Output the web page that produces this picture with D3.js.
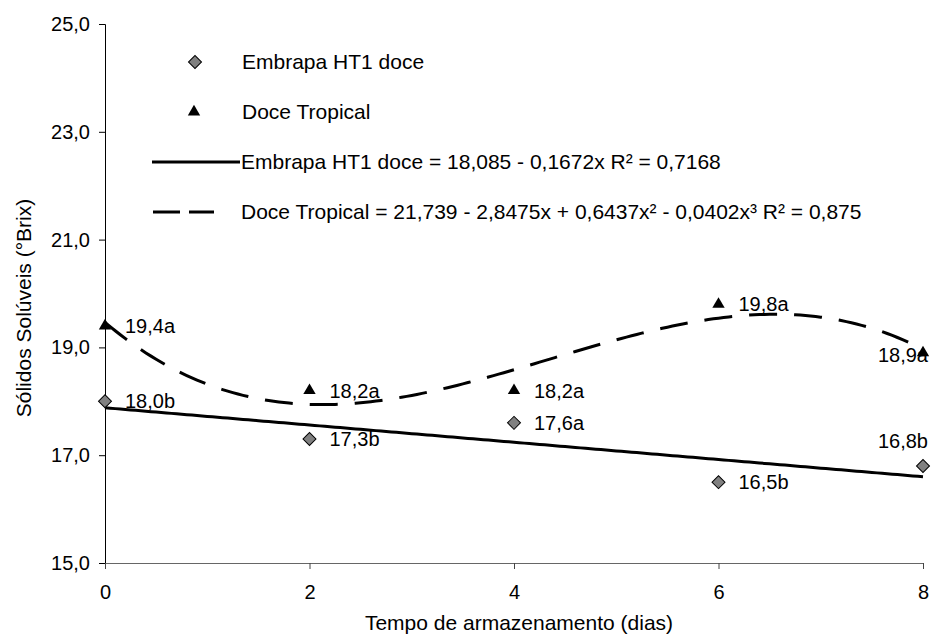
<!DOCTYPE html>
<html>
<head>
<meta charset="utf-8">
<script src="https://cdn.jsdelivr.net/npm/d3@7"></script>
<style>
  html, body { margin: 0; padding: 0; background: #fff; }
  svg { display: block; font-family: "Liberation Sans", Arial, sans-serif; }
  .tick text { font-size: 20px; fill: #000; }
  .lbl { font-size: 20px; fill: #000; }
  .leg { font-size: 21px; fill: #000; }
  .title { font-size: 21px; fill: #000; }
</style>
</head>
<body>
<div id="chart"></div>
<script>
// data
const days = [0, 2, 4, 6, 8];
const embrapa = [18.0, 17.3, 17.6, 16.5, 16.8];
const tropical = [19.4, 18.2, 18.2, 19.8, 18.9];
const embrapaLabels = ['18,0b', '17,3b', '17,6a', '16,5b', '16,8b'];
const tropicalLabels = ['19,4a', '18,2a', '18,2a', '19,8a', '18,9a'];
const yTicks = [15, 17, 19, 21, 23, 25];
const xTicks = [0, 2, 4, 6, 8];
const legendTexts = [
  'Embrapa HT1 doce',
  'Doce Tropical',
  'Embrapa HT1 doce = 18,085 - 0,1672x R² = 0,7168',
  'Doce Tropical = 21,739 - 2,8475x + 0,6437x² - 0,0402x³ R² = 0,875',
];

const width = 932;
const height = 634;

// least squares polynomial fit (normal equations)
function polyfit(xs, ys, deg) {
  const n = deg + 1;
  const A = d3.range(n).map(r => {
    const row = d3.range(n).map(c => d3.sum(xs, x => Math.pow(x, r + c)));
    row.push(d3.sum(xs, (x, i) => Math.pow(x, r) * ys[i]));
    return row;
  });
  for (let i = 0; i < n; i++) {
    let p = i;
    for (let k = i + 1; k < n; k++) if (Math.abs(A[k][i]) > Math.abs(A[p][i])) p = k;
    [A[i], A[p]] = [A[p], A[i]];
    for (let k = i + 1; k < n; k++) {
      const f = A[k][i] / A[i][i];
      for (let j = i; j <= n; j++) A[k][j] -= f * A[i][j];
    }
  }
  const coef = new Array(n).fill(0);
  for (let i = n - 1; i >= 0; i--) {
    let s = A[i][n];
    for (let j = i + 1; j < n; j++) s -= A[i][j] * coef[j];
    coef[i] = s / A[i][i];
  }
  return x => d3.sum(coef, (c, k) => c * Math.pow(x, k));
}

const fitLin = polyfit(days, embrapa, 1);
const fitCub = polyfit(days, tropical, 3);

const x = d3.scaleLinear().domain([0, 8]).range([105, 923]);
const y = d3.scaleLinear().domain([15, 25]).range([563, 24]);
const fmt = v => d3.format('.1f')(v).replace('.', ',');

const $svg = d3.select('#chart').append('svg')
  .attr('width', width)
  .attr('height', height);

// axes
const $yAxis = $svg.append('g')
  .attr('transform', `translate(${x(0)},0)`)
  .call(d3.axisLeft(y).tickValues(yTicks).tickFormat(fmt).tickSize(6).tickPadding(9));
const $xAxis = $svg.append('g')
  .attr('transform', `translate(0,${y(15)})`)
  .call(d3.axisBottom(x).tickValues(xTicks).tickFormat(d3.format('d')).tickSize(6).tickPadding(16));
$yAxis.select('.domain').attr('stroke', '#000');
$xAxis.select('.domain').attr('stroke', '#666');
$yAxis.selectAll('.tick line').attr('stroke', '#000');
$xAxis.selectAll('.tick line').attr('stroke', '#444');
$yAxis.selectAll('.tick text').attr('font-family', null).attr('font-size', null);
$xAxis.selectAll('.tick text').attr('font-family', null).attr('font-size', null);

// axis titles
$svg.append('text')
  .attr('class', 'title')
  .attr('x', 519)
  .attr('y', 630)
  .attr('text-anchor', 'middle')
  .text('Tempo de armazenamento (dias)');
$svg.append('text')
  .attr('class', 'title')
  .attr('transform', 'translate(31,308) rotate(-90)')
  .attr('text-anchor', 'middle')
  .text('Sólidos Solúveis (°Brix)');

// trend lines
const xs = d3.range(0, 8.0001, 0.05);
const line = fn => d3.line().x(d => x(d)).y(d => y(fn(d)))(xs);
$svg.append('path')
  .attr('d', line(fitLin))
  .attr('fill', 'none')
  .attr('stroke', '#000')
  .attr('stroke-width', 3);
$svg.append('path')
  .attr('d', line(fitCub))
  .attr('fill', 'none')
  .attr('stroke', '#000')
  .attr('stroke-width', 3)
  .attr('stroke-dasharray', '28,17');

// data labels (placement per point)
const labelPos = (i, series) => {
  if (i === 4 && series === 'e') return { dx: 5, dy: -25, anchor: 'end' };
  if (i === 4 && series === 't') return { dx: 5, dy: 2, anchor: 'end' };
  return { dx: 20, dy: 0, anchor: 'start' };
};
function labels(vals, texts, key) {
  $svg.append('g').selectAll('text')
    .data(vals)
    .join('text')
    .attr('class', 'lbl')
    .attr('x', (d, i) => x(days[i]) + labelPos(i, key).dx)
    .attr('y', (d, i) => y(d) + labelPos(i, key).dy)
    .attr('dy', '0.35em')
    .attr('text-anchor', (d, i) => labelPos(i, key).anchor)
    .text((d, i) => texts[i]);
}
labels(embrapa, embrapaLabels, 'e');
labels(tropical, tropicalLabels, 't');

// markers
const diamond = d3.symbol(d3.symbolSquare, 84);
const triangle = d3.symbol(d3.symbolTriangle, 66);
$svg.append('g').selectAll('path')
  .data(embrapa)
  .join('path')
  .attr('d', diamond)
  .attr('transform', (d, i) => `translate(${x(days[i])},${y(d)}) rotate(45)`)
  .attr('fill', '#808080')
  .attr('stroke', '#000')
  .attr('stroke-width', 1);
$svg.append('g').selectAll('path')
  .data(tropical)
  .join('path')
  .attr('d', triangle)
  .attr('transform', (d, i) => `translate(${x(days[i])},${y(d)})`)
  .attr('fill', '#000');

// legend
const $leg = $svg.append('g');
const rows = [62, 112, 162, 212];
$leg.append('path')
  .attr('d', diamond)
  .attr('transform', `translate(195,${rows[0]}) rotate(45)`)
  .attr('fill', '#808080')
  .attr('stroke', '#000');
$leg.append('path')
  .attr('d', triangle)
  .attr('transform', `translate(194,${rows[1]})`)
  .attr('fill', '#000');
$leg.append('line')
  .attr('x1', 152).attr('x2', 240)
  .attr('y1', rows[2]).attr('y2', rows[2])
  .attr('stroke', '#000').attr('stroke-width', 3);
$leg.append('line')
  .attr('x1', 153).attr('x2', 240)
  .attr('y1', rows[3]).attr('y2', rows[3])
  .attr('stroke', '#000').attr('stroke-width', 3)
  .attr('stroke-dasharray', '27,9,25,40');
$leg.selectAll('text')
  .data(legendTexts)
  .join('text')
  .attr('class', 'leg')
  .attr('x', (d, i) => (i < 2 ? 242 : 241))
  .attr('y', (d, i) => rows[i])
  .attr('dy', '0.35em')
  .text(d => d);
</script>
</body>
</html>
